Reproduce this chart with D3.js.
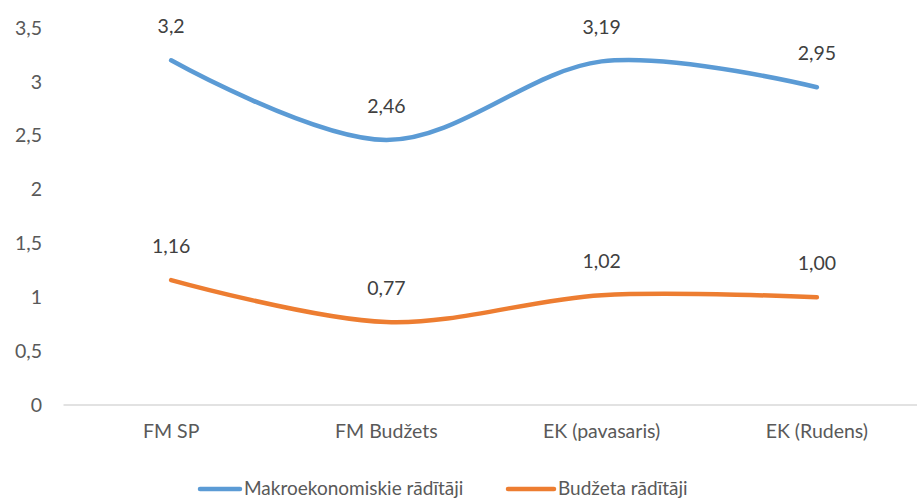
<!DOCTYPE html>
<html>
<head>
<meta charset="utf-8">
<script src="https://cdn.jsdelivr.net/npm/d3@7"></script>
<style>
  html, body { margin: 0; padding: 0; background: #fff; }
  svg { display: block; font-family: Lato, "Open Sans", sans-serif; }
</style>
</head>
<body>
<svg id="chart" width="918" height="500"></svg>
<script>
// Categories along the x axis
const categories = ["FM SP", "FM Budžets", "EK (pavasaris)", "EK (Rudens)"];
// Series values
const macroValues = [3.2, 2.46, 3.19, 2.95];
const budgetValues = [1.16, 0.77, 1.02, 1.00];
// Series names
const seriesNames = ["Makroekonomiskie rādītāji", "Budžeta rādītāji"];
// Value labels as printed on the chart
const macroLabels = ["3,2", "2,46", "3,19", "2,95"];
const budgetLabels = ["1,16", "0,77", "1,02", "1,00"];
// Y tick values
const yTicks = [0, 0.5, 1, 1.5, 2, 2.5, 3, 3.5];

const colors = ["#5b9bd5", "#ed7d31"];
const series = [
  { name: seriesNames[0], values: macroValues, labels: macroLabels, color: colors[0] },
  { name: seriesNames[1], values: budgetValues, labels: budgetLabels, color: colors[1] }
];

const svg = d3.select("#chart");
const fontSize = 19.5;
const legendFont = 19;

const x = d3.scaleBand().domain(categories).range([63.5, 924.5]);
const y = d3.scaleLinear().domain([0, 3.5]).range([405, 28]);

// y axis labels (no axis line)
const yAxis = d3.axisLeft(y).tickValues(yTicks).tickSize(0).tickPadding(0)
  .tickFormat(d => String(d).replace(".", ","));
const gy = svg.append("g").attr("transform", "translate(42,0)").call(yAxis);
gy.select(".domain").remove();
gy.selectAll("text").attr("font-size", fontSize).attr("fill", "#595959")
  .attr("font-family", "Lato, 'Open Sans', sans-serif");

// baseline
svg.append("line").attr("x1", 63.5).attr("x2", 917).attr("y1", y(0)).attr("y2", y(0))
  .attr("stroke", "#d9d9d9").attr("stroke-width", 1.5);

// x axis labels
const xAxis = d3.axisBottom(x).tickSize(0).tickPadding(0);
const gx = svg.append("g").attr("transform", "translate(0,424)").call(xAxis);
gx.select(".domain").remove();
gx.selectAll("text").attr("font-size", fontSize).attr("fill", "#595959")
  .attr("font-family", "Lato, 'Open Sans', sans-serif");

const cx = d => x(d) + x.bandwidth() / 2;
const line = d3.line()
  .x((d, i) => cx(categories[i]))
  .y(d => y(d))
  .curve(d3.curveCatmullRom.alpha(0));

series.forEach(s => {
  svg.append("path").datum(s.values)
    .attr("d", line)
    .attr("fill", "none")
    .attr("stroke", s.color)
    .attr("stroke-width", 4.5)
    .attr("stroke-linecap", "round")
    .attr("stroke-linejoin", "round");

  svg.append("g").selectAll("text").data(s.values).join("text")
    .attr("x", (d, i) => cx(categories[i]))
    .attr("y", d => y(d) - 27)
    .attr("text-anchor", "middle")
    .attr("font-size", fontSize)
    .attr("fill", "#404040")
    .text((d, i) => s.labels[i]);
});

// legend
const legendItems = [
  { x1: 200, x2: 240, tx: 244 },
  { x1: 508, x2: 554, tx: 558 }
];
series.forEach((s, i) => {
  const it = legendItems[i];
  svg.append("line").attr("x1", it.x1).attr("x2", it.x2).attr("y1", 489).attr("y2", 489)
    .attr("stroke", s.color).attr("stroke-width", 4.5).attr("stroke-linecap", "round");
  svg.append("text").attr("x", it.tx).attr("y", 495)
    .attr("font-size", legendFont).attr("fill", "#595959").text(s.name);
});
</script>
</body>
</html>
